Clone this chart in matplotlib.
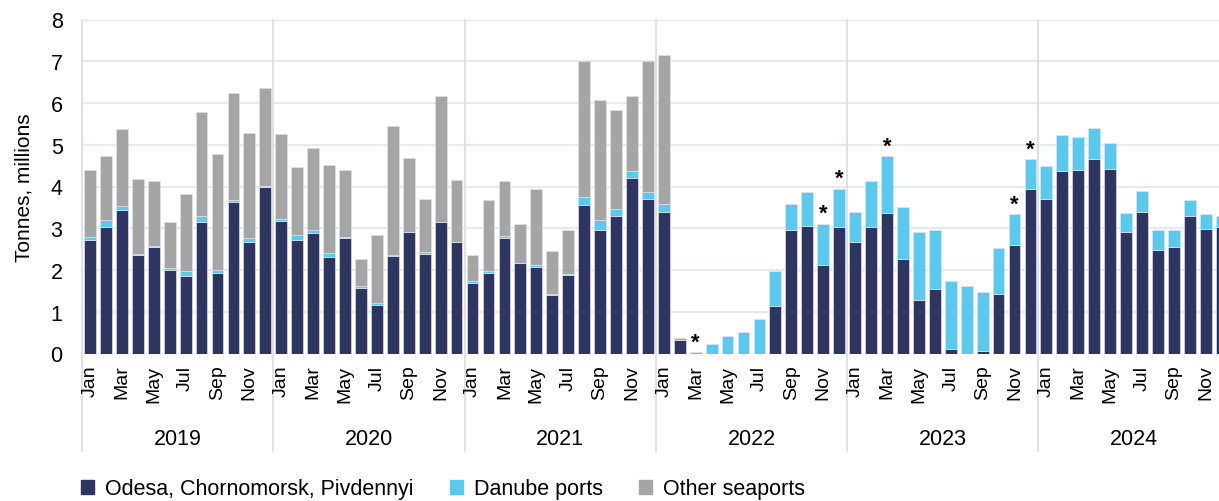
import numpy as np
import matplotlib
matplotlib.use('Agg')
import matplotlib.pyplot as plt
import matplotlib.transforms as mtransforms
from matplotlib.patches import Patch

plt.rcParams['font.family'] = ['Liberation Sans', 'DejaVu Sans']

years = ['2019', '2020', '2021', '2022', '2023', '2024']
months = ['Jan', 'Feb', 'Mar', 'Apr', 'May', 'Jun', 'Jul', 'Aug', 'Sep', 'Oct', 'Nov', 'Dec']

# million tonnes per month, Jan 2019 .. Dec 2024
odesa = [2.72, 3.03, 3.44, 2.35, 2.54, 2.00, 1.85, 3.14, 1.93, 3.64, 2.68, 3.98,
         3.18, 2.72, 2.88, 2.31, 2.77, 1.57, 1.17, 2.34, 2.91, 2.38, 3.14, 2.67,
         1.69, 1.93, 2.77, 2.16, 2.08, 1.40, 1.89, 3.55, 2.95, 3.29, 4.20, 3.70,
         3.40, 0.32, 0.00, 0.00, 0.00, 0.00, 0.00, 1.14, 2.95, 3.05, 2.12, 3.03,
         2.68, 3.03, 3.37, 2.26, 1.28, 1.54, 0.11, 0.00, 0.06, 1.43, 2.60, 3.94,
         3.71, 4.36, 4.39, 4.65, 4.42, 2.91, 3.40, 2.49, 2.56, 3.29, 2.99, 3.03]
danube = [0.08, 0.16, 0.09, 0.03, 0.04, 0.04, 0.12, 0.15, 0.07, 0.04, 0.08, 0.03,
          0.04, 0.11, 0.07, 0.10, 0.01, 0.05, 0.04, 0.01, 0.01, 0.04, 0.02, 0.01,
          0.05, 0.04, 0.04, 0.01, 0.04, 0.03, 0.01, 0.20, 0.24, 0.16, 0.18, 0.16,
          0.19, 0.01, 0.03, 0.22, 0.41, 0.52, 0.83, 0.83, 0.64, 0.81, 0.98, 0.91,
          0.72, 1.10, 1.35, 1.25, 1.63, 1.41, 1.62, 1.62, 1.41, 1.10, 0.73, 0.71,
          0.79, 0.87, 0.80, 0.76, 0.62, 0.46, 0.50, 0.46, 0.39, 0.38, 0.34, 0.26]
other = [1.59, 1.55, 1.85, 1.79, 1.55, 1.11, 1.85, 2.50, 2.77, 2.56, 2.51, 2.35,
         2.04, 1.64, 1.97, 2.10, 1.61, 0.65, 1.62, 3.10, 1.77, 1.29, 3.01, 1.48,
         0.61, 1.70, 1.32, 0.93, 1.82, 1.03, 1.05, 3.25, 2.87, 2.38, 1.79, 3.14,
         3.57, 0.05, 0, 0, 0, 0, 0, 0, 0, 0, 0, 0,
         0, 0, 0, 0, 0, 0, 0, 0, 0, 0, 0, 0,
         0, 0, 0, 0, 0, 0, 0, 0, 0, 0, 0, 0]
# months flagged with an asterisk (index into the series)
starred = [38, 46, 47, 50, 58, 59]

c_odesa = '#2e3560'
c_danube = '#5bc8ee'
c_other = '#a5a5a5'
grid_c = '#e7e9ea'

odesa = np.array(odesa)
danube = np.array(danube)
other = np.array(other)
x = np.arange(len(odesa))

fig = plt.figure(figsize=(12.19, 5.02), dpi=100)
ax = fig.add_axes([82/1219, (502-354.5)/502, (1219-82)/1219, 334/502])

w = 0.74
ax.bar(x, odesa, w, color=c_odesa, edgecolor='#dde2ea', linewidth=0.5, zorder=3)
ax.bar(x, danube, w, bottom=odesa, color=c_danube, edgecolor='#dde2ea', linewidth=0.5, zorder=3)
ax.bar(x, other, w, bottom=odesa+danube, color=c_other, edgecolor='#dde2ea', linewidth=0.5, zorder=3)

tops = odesa + danube + other
for i in starred:
    ax.annotate('*', (x[i], tops[i]), xytext=(0, 0), textcoords='offset points',
                ha='center', va='bottom', fontsize=16, fontweight='bold', color='black', zorder=4)

ax.set_ylim(0, 8)
ax.set_xlim(-0.5, 70.83)
ax.set_yticks(range(0, 9))
for v in range(1, 9):
    ax.axhline(v, color=grid_c, lw=1.5, zorder=0)
for s in ax.spines.values():
    s.set_visible(False)

ax.set_xticks(x[::2])
ax.set_xticklabels(months[::2] * len(years), rotation=90, fontsize=14)
ax.tick_params(axis='x', length=0, pad=8)
ax.tick_params(axis='y', length=0, pad=14, labelsize=15.5)
ax.set_ylabel('Tonnes, millions', fontsize=15, labelpad=12)

trans = mtransforms.blended_transform_factory(ax.transData, ax.transAxes)
for k, yr in enumerate(years):
    xs = 12*k - 0.5
    ax.plot([xs, xs], [-0.292, 1], transform=trans, color='#dcdfe0', lw=1.3, clip_on=False, zorder=1)
    ax.text(12*k + 5.5, -0.255, yr, transform=trans, ha='center', va='center', fontsize=15.5)

handles = [Patch(color=c_odesa), Patch(color=c_danube), Patch(color=c_other)]
labels = ['Odesa, Chornomorsk, Pivdennyi', 'Danube ports', 'Other seaports']
fig.legend(handles, labels, loc='center left', bbox_to_anchor=(62/1219, 1-490/502), ncol=3,
           frameon=False, fontsize=15.5, handlelength=0.6, handleheight=0.6,
           handletextpad=0.5, columnspacing=1.7)

fig.savefig('out.png', dpi=100)
